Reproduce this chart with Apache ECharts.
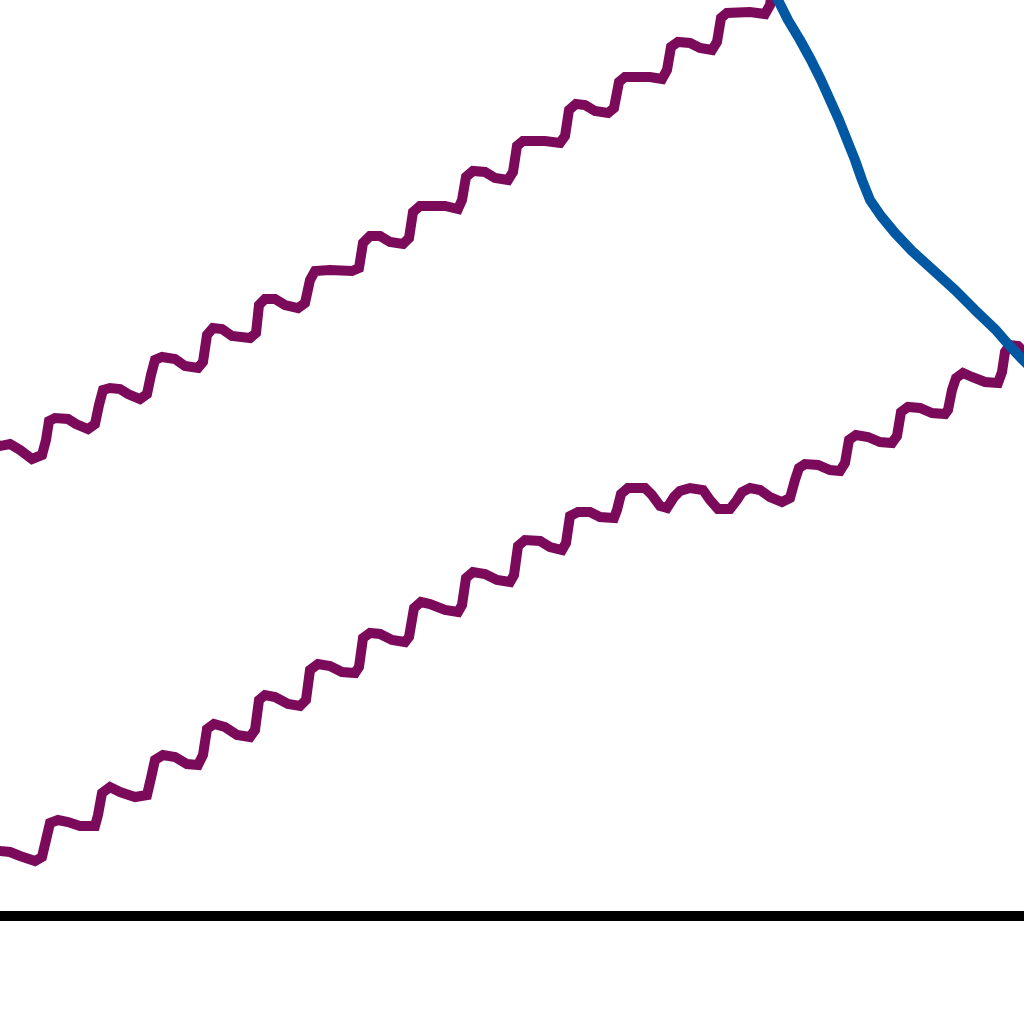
<!DOCTYPE html>
<html>
<head>
<meta charset="utf-8">
<script src="https://cdn.jsdelivr.net/npm/echarts@6/dist/echarts.min.js"></script>
<style>html,body{margin:0;padding:0;background:#fff}#c{width:1024px;height:1024px}</style>
</head>
<body>
<div id="c"></div>
<script>
const upperSeries = [[-5,472],[0,470],[10,472],[20,466],[32,457],[42,461],[46,476],[49,495],[55,498],[68,497],[76,492],[88,487],[95,492],[99,511],[103,526],[110,528],[120,527],[128,522],[140,517],[147,522],[151,541],[155,556],[162,559],[175,557],[185,550],[198,548],[203,554],[207,581],[213,588],[222,587],[232,580],[250,578],[256,583],[259,611],[265,617],[275,617],[285,611],[298,608],[305,613],[310,636],[315,645],[330,646],[352,645],[359,648],[363,673],[370,680],[380,680],[390,674],[403,672],[409,678],[413,704],[420,710],[445,710],[458,707],[462,716],[466,739],[473,745],[485,744],[495,738],[508,736],[513,744],[517,770],[523,775],[545,775],[560,773],[565,780],[569,806],[576,812],[585,811],[595,805],[608,803],[614,808],[619,834],[625,839],[650,839],[662,837],[667,846],[671,869],[678,874],[690,873],[700,868],[712,866],[717,874],[721,898],[727,903],[750,904],[765,902],[770,911],[773,931]];
const lowerSeries = [[-5,66],[0,65],[10,64],[20,60],[35,55],[42,59],[46,76],[50,93],[58,96],[68,94],[80,90],[95,90],[98,101],[102,123],[110,129],[120,124],[135,119],[147,121],[151,138],[155,156],[163,161],[175,159],[187,152],[198,151],[203,161],[207,187],[214,192],[225,189],[237,181],[250,179],[255,186],[259,216],[265,221],[275,219],[288,212],[300,210],[306,216],[310,246],[318,252],[330,250],[342,244],[355,243],[359,249],[363,278],[370,283],[380,282],[392,276],[405,274],[409,279],[414,308],[421,314],[430,312],[445,306],[458,304],[462,311],[466,338],[473,344],[485,342],[497,336],[510,334],[514,341],[518,370],[525,376],[540,375],[550,369],[562,366],[566,373],[570,400],[578,404],[590,404],[600,399],[614,398],[617,406],[621,422],[628,428],[645,428],[652,421],[660,410],[667,408],[674,419],[680,425],[690,428],[703,426],[710,416],[718,407],[730,407],[737,416],[742,424],[750,428],[760,426],[770,419],[782,414],[790,418],[795,436],[799,448],[805,452],[818,451],[830,446],[840,445],[845,453],[849,476],[856,481],[868,479],[880,474],[892,473],[897,480],[901,504],[908,509],[920,508],[932,503],[945,502],[948,506],[952,526],[956,538],[963,543],[972,539],[985,534],[998,533],[1002,544],[1005,564],[1010,571],[1018,570],[1024,564],[1030,556]];
const blueSeries = [[773,926],[778,916],[788,896],[800,876],[811,856],[821,836],[830,816],[839,796],[847,776],[855,756],[862,736],[870,716],[881,700],[895,683],[912,665],[933,646],[955,626],[975,606],[995,587],[1008,572],[1022,557],[1032,547]];

const chart = echarts.init(document.getElementById('c'), null, {renderer: 'canvas'});
chart.setOption({
  animation: false,
  backgroundColor: '#ffffff',
  grid: {left: 0, right: 0, top: 0, bottom: 108, containLabel: false},
  xAxis: {
    type: 'value', min: 0, max: 1024,
    axisLine: {show: true, onZero: false, lineStyle: {color: '#000000', width: 10}},
    axisTick: {show: false}, axisLabel: {show: false}, splitLine: {show: false}
  },
  yAxis: {
    type: 'value', min: 0, max: 916,
    axisLine: {show: false}, axisTick: {show: false}, axisLabel: {show: false}, splitLine: {show: false}
  },
  series: [
    {type: 'line', data: upperSeries, showSymbol: false, symbol: 'none', clip: true,
     lineStyle: {color: '#7b0a5a', width: 10, join: 'miter'}},
    {type: 'line', data: lowerSeries, showSymbol: false, symbol: 'none', clip: true,
     lineStyle: {color: '#7b0a5a', width: 10, join: 'miter'}},
    {type: 'line', data: blueSeries, showSymbol: false, symbol: 'none', clip: true,
     lineStyle: {color: '#0058a3', width: 10, join: 'round'}}
  ]
});
</script>
</body>
</html>
